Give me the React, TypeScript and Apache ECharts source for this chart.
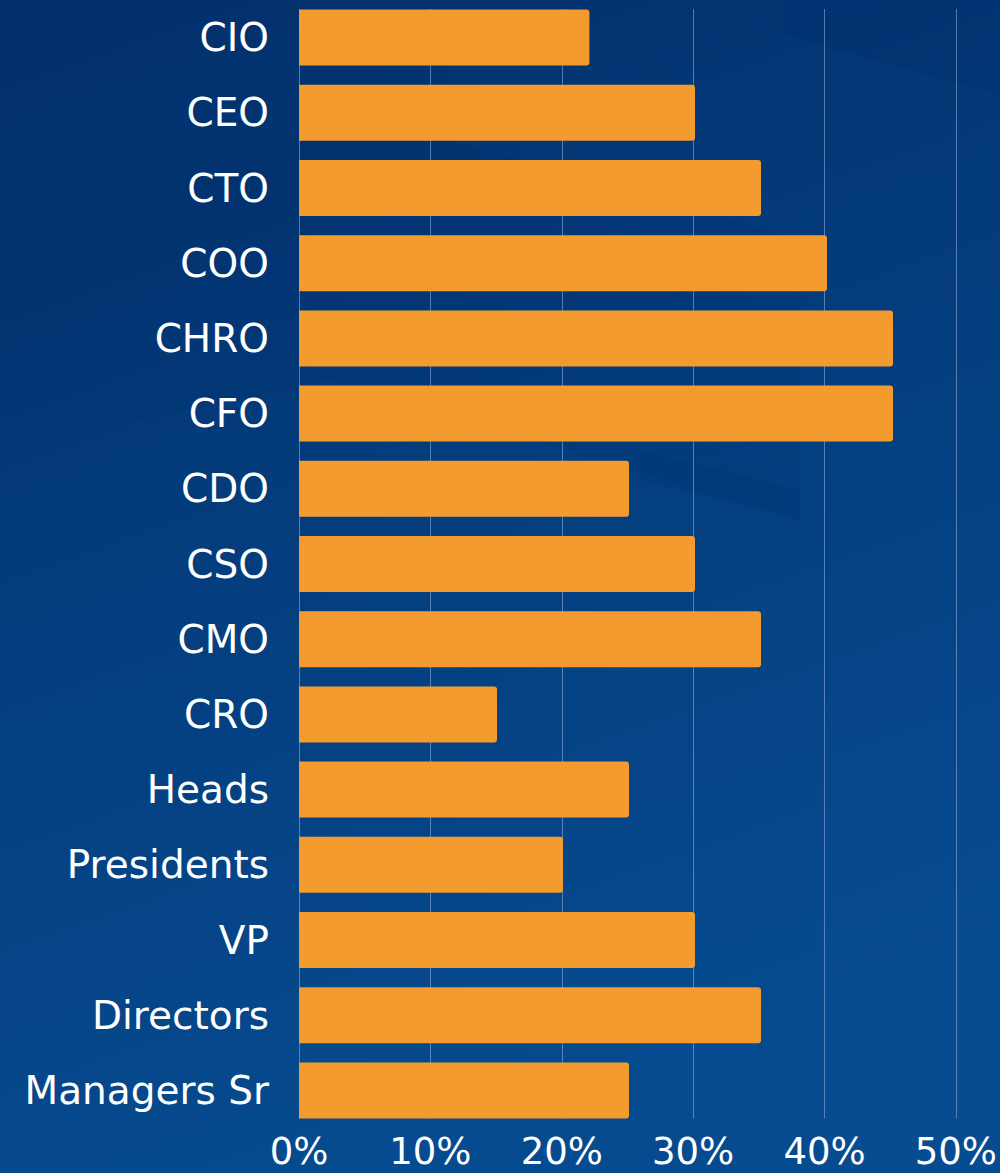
import React, { useEffect, useRef } from "react";
import * as echarts from "echarts";

const categories = [
  "CIO", "CEO", "CTO", "COO", "CHRO", "CFO", "CDO", "CSO", "CMO", "CRO",
  "Heads", "Presidents", "VP", "Directors", "Managers Sr",
];
const values = [22, 30, 35, 40, 45, 45, 25, 30, 35, 15, 25, 20, 30, 35, 25];
const axisMin = 0;
const axisMax = 50;
const axisStep = 10;

const FONT = "DejaVu Sans";

export default function App() {
  const ref = useRef<HTMLDivElement>(null);
  useEffect(() => {
    document.body.style.margin = "0";
    const chart = echarts.init(ref.current!, null, { renderer: "svg" });
    chart.setOption({
      animation: false,
      backgroundColor: {
        type: "linear", x: 0, y: 0, x2: 0.3, y2: 1,
        colorStops: [
          { offset: 0, color: "#022f6b" },
          { offset: 1, color: "#064b8f" },
        ],
      },
      graphic: [
        {
          type: "polygon", silent: true, z: -10,
          shape: { points: [[785, 0], [1000, 0], [1000, 95], [785, 35]] },
          style: { fill: "rgba(0,30,90,0.08)" },
        },
        {
          type: "polygon", silent: true, z: -10,
          shape: { points: [[0, 190], [380, 120], [800, 240], [800, 520], [330, 380], [0, 450]] },
          style: { fill: "rgba(0,30,90,0.06)" },
        },
        {
          type: "polygon", silent: true, z: -10,
          shape: { points: [[640, 450], [800, 490], [800, 520], [640, 480]] },
          style: { fill: "rgba(0,30,90,0.08)" },
        },
        {
          type: "polygon", silent: true, z: -10,
          shape: { points: [[820, 700], [1000, 640], [1000, 1173], [820, 1173]] },
          style: { fill: "rgba(20,80,160,0.08)" },
        },
      ],
      grid: [
        { left: 299, width: 660, top: -0.6, height: 1128.6, containLabel: false },
        { left: 299, width: 660, top: 9, height: 1109.5, containLabel: false },
      ],
      xAxis: [
        {
          gridIndex: 0, type: "value", min: axisMin, max: axisMax, interval: axisStep,
          show: false,
        },
        {
          gridIndex: 1, type: "value", min: axisMin, max: axisMax, interval: axisStep,
          axisLine: { show: false },
          axisTick: { show: false },
          splitLine: { show: true, lineStyle: { color: "rgba(150,180,225,0.55)", width: 1 } },
          axisLabel: {
            formatter: "{value}%", color: "#ffffff", fontSize: 37, lineHeight: 32,
            fontFamily: FONT, margin: 17,
          },
        },
      ],
      yAxis: [
        {
          gridIndex: 0, type: "category", data: categories, inverse: true,
          axisLine: { show: false },
          axisTick: { show: false },
          splitLine: { show: false },
          axisLabel: {
            color: "#ffffff", fontSize: 39, fontFamily: FONT, margin: 30,
            padding: [0, 0, 6, 0],
          },
        },
        { gridIndex: 1, type: "value", show: false, min: 0, max: 1 },
      ],
      series: [
        {
          type: "bar", xAxisIndex: 0, yAxisIndex: 0, data: values, barWidth: 56,
          itemStyle: { color: "#F49B30", borderRadius: [0, 3, 3, 0] },
        },
      ],
    });
    return () => chart.dispose();
  }, []);
  return <div ref={ref} style={{ width: 1000, height: 1173 }} />;
}
